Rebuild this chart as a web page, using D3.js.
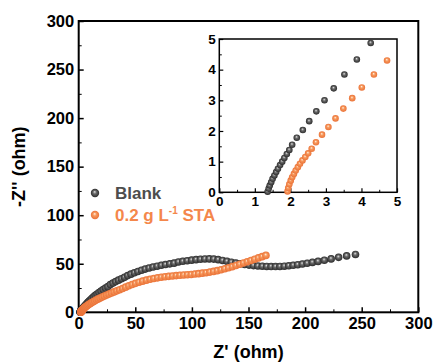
<!DOCTYPE html>
<html>
<head>
<meta charset="utf-8">
<script src="https://cdn.jsdelivr.net/npm/d3@7"></script>
<style>
  body { margin: 0; background: #fff; }
  text { font-family: Arial, "Liberation Sans", sans-serif; font-weight: bold; }
</style>
</head>
<body>
<svg id="chart" width="434" height="364"></svg>
<script>
// Z' / Z'' (ohm)
const blankRe = [1.36, 1.39, 1.42, 1.46, 1.50, 1.55, 1.60, 1.65, 1.71, 1.77, 1.83, 1.90, 1.97, 2.05, 2.18, 2.35, 2.53, 2.73, 2.96, 3.22, 3.52, 3.87, 4.26,
  4.8, 5.5, 6.3, 7.2, 8.2, 9.3, 10.5, 11.8, 13.2, 14.7, 16.3, 18.0, 19.8, 21.7, 23.7, 25.8, 28.0, 30.3, 32.7, 35.2, 37.8, 40.5, 43.3, 46.2, 49.2,
  52.3, 55.5, 58.8, 62.2, 65.7, 69.3, 73.0, 76.7, 80.5, 84.3, 88.1, 92.0, 95.9, 99.8, 103.7, 107.6, 111.5, 115.4, 119.3, 123.2, 127.1, 131.0,
  134.9, 138.8, 142.7, 146.6, 150.5, 154.4, 158.3, 162.2, 166.1, 170.0, 173.9, 177.8, 181.7, 185.6, 189.5, 193.5, 197.6, 201.9, 206.5, 211.5,
  217.0, 223.0, 229.6, 236.7, 244.5];
const blankIm = [0.02, 0.12, 0.22, 0.33, 0.44, 0.55, 0.66, 0.77, 0.89, 1.00, 1.12, 1.25, 1.38, 1.55, 1.78, 2.03, 2.32, 2.64, 3.00, 3.39, 3.84, 4.33, 4.87,
  5.6, 6.6, 7.7, 8.9, 10.2, 11.6, 13.0, 14.4, 15.9, 17.4, 18.9, 20.4, 21.9, 23.4, 24.9, 26.4, 28.6, 30.1, 31.6, 33.1, 34.6, 36.0, 37.8, 39.3, 40.7,
  42.0, 43.3, 44.5, 45.6, 46.6, 47.5, 48.4, 49.2, 49.9, 50.6, 51.8, 52.5, 53.1, 53.7, 54.2, 54.6, 54.9, 55.0, 54.8, 54.2, 53.4, 52.5,
  51.6, 50.7, 49.9, 49.2, 48.6, 48.1, 47.7, 47.4, 47.2, 47.1, 47.1, 47.2, 47.5, 47.9, 48.4, 49.0, 49.7, 50.5, 51.4, 52.4,
  53.6, 55.0, 56.6, 58.1, 59.6];

const staRe = [1.92, 1.94, 1.97, 2.01, 2.05, 2.10, 2.15, 2.21, 2.27, 2.34, 2.42, 2.50, 2.60, 2.72, 2.89, 3.07, 3.27, 3.49, 3.74, 4.01, 4.35, 4.72,
  5.2, 5.8, 6.5, 7.3, 8.2, 9.2, 10.3, 11.5, 12.8, 14.2, 15.7, 17.3, 19.0, 20.8, 22.7, 24.7, 26.8, 29.0, 31.3, 33.7, 36.2, 38.8, 41.5, 44.3,
  47.2, 50.2, 53.3, 56.5, 59.8, 63.1, 66.4, 69.7, 73.0, 76.3, 79.6, 82.9, 86.2, 89.5, 92.8, 96.1, 99.4, 102.7, 106.0, 109.3, 112.6, 115.9,
  119.2, 122.5, 125.8, 129.1, 132.4, 135.7, 139.0, 142.3, 145.6, 148.9, 152.2, 155.5, 158.8, 162.1, 165.4];
const staIm = [0.03, 0.14, 0.26, 0.38, 0.49, 0.60, 0.71, 0.82, 0.93, 1.04, 1.15, 1.27, 1.42, 1.63, 1.88, 2.13, 2.41, 2.73, 3.07, 3.42, 3.84, 4.30,
  4.8, 5.4, 6.0, 6.7, 7.5, 8.3, 9.1, 10.0, 10.9, 11.8, 12.8, 13.8, 14.8, 15.8, 16.8, 17.8, 18.8, 19.9, 21.0, 22.1, 23.3, 24.5, 25.9, 27.3,
  28.6, 29.8, 31.0, 32.1, 33.1, 34.0, 34.8, 35.5, 36.1, 36.6, 37.0, 37.4, 37.8, 38.1, 38.4, 38.7, 39.0, 39.4, 39.8, 40.3, 40.8, 41.4,
  42.1, 42.9, 43.8, 44.8, 45.9, 47.0, 48.2, 49.5, 50.8, 52.1, 53.4, 54.7, 56.0, 57.3, 58.6];

const mainTicks = [0, 50, 100, 150, 200, 250, 300];
const mainMinor = [25, 75, 125, 175, 225, 275];
const insetTicks = [0, 1, 2, 3, 4, 5];
const insetMinor = [0.5, 1.5, 2.5, 3.5, 4.5];

const svg = d3.select('#chart');

// sphere-like markers
const defs = svg.append('defs');
function sphere(id, c0, c1, c2) {
  const g = defs.append('radialGradient').attr('id', id)
    .attr('cx', '50%').attr('cy', '50%').attr('r', '50%').attr('fx', '45%').attr('fy', '35%');
  g.append('stop').attr('offset', '0%').attr('stop-color', c0);
  g.append('stop').attr('offset', '40%').attr('stop-color', c1);
  g.append('stop').attr('offset', '100%').attr('stop-color', c2);
}
sphere('gBlank', '#e4e4e4', '#6a6a6a', '#2b2b2b');
sphere('gSta', '#fff1e4', '#f7995c', '#ea7238');

const series = [
  {name: 'Blank', re: blankRe, im: blankIm, fill: 'url(#gBlank)', color: '#4d4d4d'},
  {name: 'STA', re: staRe, im: staIm, fill: 'url(#gSta)', color: '#f4874b'}
];

// ---- main plot ----
const x = d3.scaleLinear().domain([0, 300]).range([78.7, 418.3]);
const y = d3.scaleLinear().domain([0, 300]).range([312.3, 21]);

svg.append('g').attr('transform', `translate(0,${y(0)})`)
  .call(d3.axisBottom(x).tickValues(mainMinor).tickSize(-3).tickSizeOuter(0).tickFormat(''))
  .call(g => g.select('.domain').remove());
svg.append('g').attr('transform', `translate(${x(0)},0)`)
  .call(d3.axisLeft(y).tickValues(mainMinor).tickSize(-3).tickSizeOuter(0).tickFormat(''))
  .call(g => g.select('.domain').remove());

const xAxis = svg.append('g').attr('transform', `translate(0,${y(0)})`)
  .call(d3.axisBottom(x).tickValues(mainTicks).tickSize(-5).tickSizeOuter(0).tickPadding(5));
const yAxis = svg.append('g').attr('transform', `translate(${x(0)},0)`)
  .call(d3.axisLeft(y).tickValues(mainTicks).tickSize(-5).tickSizeOuter(0).tickPadding(4.5));
[xAxis, yAxis].forEach(a => {
  a.select('.domain').remove();
  a.selectAll('line').attr('stroke', '#000').attr('stroke-width', 1.5);
  a.selectAll('text').attr('fill', '#000').style('font-size', '16.5px');
});

svg.append('rect')
  .attr('x', x(0)).attr('y', y(300))
  .attr('width', x(300) - x(0)).attr('height', y(0) - y(300))
  .attr('fill', 'none').attr('stroke', '#000').attr('stroke-width', 2);

series.forEach(s => {
  svg.append('g').selectAll('circle')
    .data(d3.range(s.re.length))
    .join('circle')
    .attr('cx', i => x(s.re[i]))
    .attr('cy', i => y(s.im[i]))
    .attr('r', 3.8)
    .attr('fill', s.fill);
});

// axis titles
svg.append('text')
  .attr('x', (x(0) + x(300)) / 2).attr('y', 358)
  .attr('text-anchor', 'middle').style('font-size', '18px')
  .text("Z' (ohm)");
svg.append('text')
  .attr('transform', `translate(25,${(y(0) + y(300)) / 2}) rotate(-90)`)
  .attr('text-anchor', 'middle').style('font-size', '18px')
  .text("-Z'' (ohm)");

// legend
const legend = svg.append('g');
legend.append('circle').attr('cx', 95).attr('cy', 193).attr('r', 4.2).attr('fill', series[0].fill);
legend.append('text').attr('x', 115).attr('y', 199).attr('fill', series[0].color)
  .style('font-size', '17px').text('Blank');
legend.append('circle').attr('cx', 95).attr('cy', 215).attr('r', 4.2).attr('fill', series[1].fill);
const lt = legend.append('text').attr('x', 115).attr('y', 221).attr('fill', series[1].color)
  .style('font-size', '17px');
lt.append('tspan').text('0.2 g L');
lt.append('tspan').attr('dy', -7).style('font-size', '10px').text('-1');
lt.append('tspan').attr('dy', 7).text(' STA');

// ---- inset ----
const ix = d3.scaleLinear().domain([0, 5]).range([219.3, 397]);
const iy = d3.scaleLinear().domain([0, 5]).range([192.3, 39]);

svg.append('rect')
  .attr('x', ix(0)).attr('y', iy(5))
  .attr('width', ix(5) - ix(0)).attr('height', iy(0) - iy(5))
  .attr('fill', '#fff');

svg.append('g').attr('transform', `translate(0,${iy(0)})`)
  .call(d3.axisBottom(ix).tickValues(insetMinor).tickSize(-2.5).tickSizeOuter(0).tickFormat(''))
  .call(g => g.select('.domain').remove());
svg.append('g').attr('transform', `translate(${ix(0)},0)`)
  .call(d3.axisLeft(iy).tickValues(insetMinor).tickSize(-2.5).tickSizeOuter(0).tickFormat(''))
  .call(g => g.select('.domain').remove());

const ixAxis = svg.append('g').attr('transform', `translate(0,${iy(0)})`)
  .call(d3.axisBottom(ix).tickValues(insetTicks).tickSize(-4).tickSizeOuter(0).tickPadding(4).tickFormat(d3.format('d')));
const iyAxis = svg.append('g').attr('transform', `translate(${ix(0)},0)`)
  .call(d3.axisLeft(iy).tickValues(insetTicks).tickSize(-4).tickSizeOuter(0).tickPadding(3.5).tickFormat(d3.format('d')));
[ixAxis, iyAxis].forEach(a => {
  a.select('.domain').remove();
  a.selectAll('line').attr('stroke', '#000').attr('stroke-width', 1.2);
  a.selectAll('text').attr('fill', '#000').style('font-size', '13.5px');
});

svg.append('rect')
  .attr('x', ix(0)).attr('y', iy(5))
  .attr('width', ix(5) - ix(0)).attr('height', iy(0) - iy(5))
  .attr('fill', 'none').attr('stroke', '#000').attr('stroke-width', 1.5);

series.forEach(s => {
  const idx = d3.range(s.re.length).filter(i => s.re[i] <= 5 && s.im[i] <= 5);
  svg.append('g').selectAll('circle')
    .data(idx)
    .join('circle')
    .attr('cx', i => ix(s.re[i]))
    .attr('cy', i => iy(s.im[i]))
    .attr('r', 3.3)
    .attr('fill', s.fill);
});
</script>
</body>
</html>
